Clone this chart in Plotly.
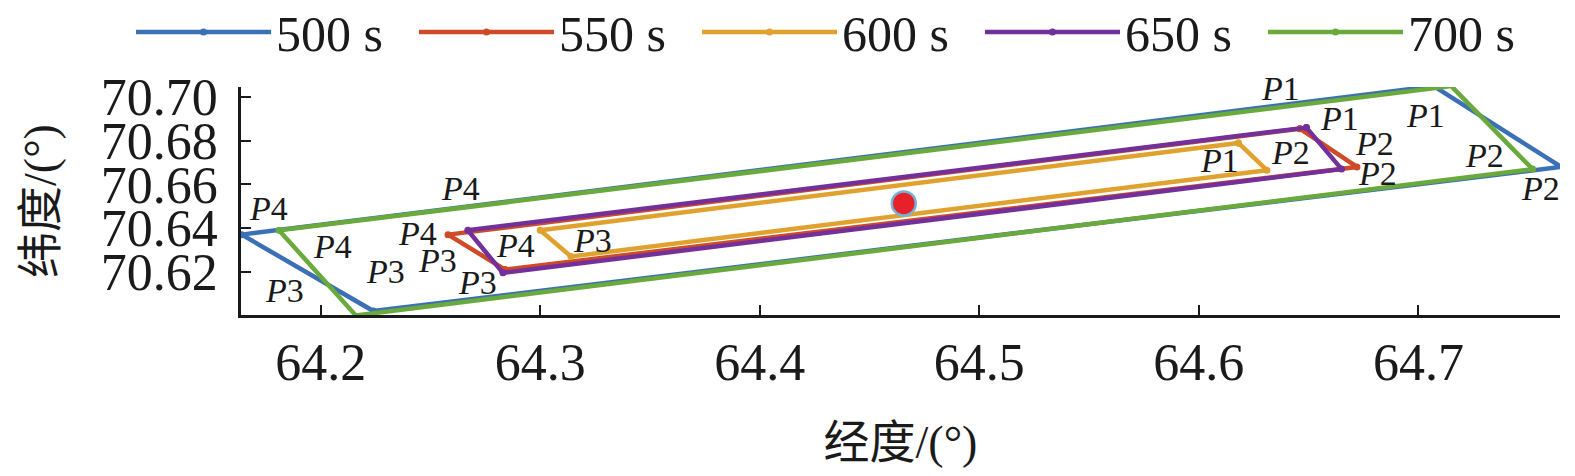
import plotly.graph_objects as go

# Sommets des zones (P1, P2, P3, P4) pour chaque instant
temps = ["500 s", "550 s", "600 s", "650 s", "700 s"]
couleurs = ["#3b70b6", "#cf4a26", "#e0a22f", "#74309a", "#6aa93c"]

lon_500 = [64.707, 64.765, 64.224, 64.164]
lat_500 = [70.705, 70.668, 70.602, 70.637]
lon_550 = [64.646, 64.672, 64.284, 64.258]
lat_550 = [70.6855, 70.668, 70.621, 70.637]
lon_600 = [64.618, 64.631, 64.314, 64.300]
lat_600 = [70.679, 70.6665, 70.627, 70.639]
lon_650 = [64.649, 64.665, 64.283, 64.267]
lat_650 = [70.686, 70.667, 70.6195, 70.639]
lon_700 = [64.715, 64.752, 64.216, 64.181]
lat_700 = [70.705, 70.667, 70.600, 70.639]

# Position de la cible (point rouge)
centre_lon = [64.4656]
centre_lat = [70.6513]

x_ticks = [64.2, 64.3, 64.4, 64.5, 64.6, 64.7]
y_ticks = [70.62, 70.64, 70.66, 70.68, 70.70]

# Étiquettes des sommets
etiquettes = ["P1", "P1", "P1", "P1", "P2", "P2", "P2", "P1", "P2", "P2",
              "P4", "P4", "P4", "P3", "P3", "P4", "P3", "P3", "P4", "P3"]
etiq_lon = [64.6374, 64.7293, 64.7034, 64.6639, 64.6799, 64.6814, 64.6419, 64.6092, 64.7300, 64.7558,
            64.2638, 64.1764, 64.2053, 64.2296, 64.1833, 64.2441, 64.2532, 64.2714, 64.2888, 64.3238]
etiq_lat = [70.7038, 70.7069, 70.6916, 70.6901, 70.6787, 70.6649, 70.6748, 70.6710, 70.6733, 70.6581,
            70.6581, 70.6489, 70.6314, 70.6199, 70.6115, 70.6375, 70.6253, 70.6153, 70.6321, 70.6344]

police = "Liberation Serif, Noto Sans CJK SC, serif"

lons = [lon_500, lon_550, lon_600, lon_650, lon_700]
lats = [lat_500, lat_550, lat_600, lat_650, lat_700]

fig = go.Figure()

# Une légende par trace pour garder de longs traits d'exemple sur une seule ligne
legendes = ["legend", "legend2", "legend3", "legend4", "legend5"]

for nom, c, lo, la, leg in zip(temps, couleurs, lons, lats, legendes):
    fig.add_trace(go.Scatter(
        x=lo + lo[:1],
        y=la + la[:1],
        mode="lines+markers",
        name=nom,
        line=dict(color=c, width=4.5),
        marker=dict(color=c, size=7),
        legend=leg,
        cliponaxis=False
    ))

fig.add_trace(go.Scatter(
    x=centre_lon, y=centre_lat,
    mode="markers",
    marker=dict(color="#e8202a", size=24, line=dict(color="#72b4d8", width=2.5)),
    showlegend=False,
    cliponaxis=False
))

for txt, xa, ya in zip(etiquettes, etiq_lon, etiq_lat):
    fig.add_annotation(
        x=xa, y=ya, text=f"<i>{txt[0]}</i>{txt[1:]}",
        showarrow=False,
        font=dict(family=police, size=34, color="#1a1a1a")
    )

fig.update_layout(
    width=1575,
    height=476,
    margin=dict(l=241, r=15, t=87, b=161, autoexpand=False),
    plot_bgcolor="white",
    paper_bgcolor="white",
    font=dict(family=police, color="#1a1a1a"),
    showlegend=True
)

for i, leg in enumerate(legendes):
    fig.update_layout({leg: dict(
        orientation="h",
        xref="container", x=(131 + 283 * i) / 1575, xanchor="left",
        yref="container", y=0.933, yanchor="middle",
        font=dict(size=50, family=police),
        itemwidth=135,
        bgcolor="rgba(0,0,0,0)"
    )})

fig.update_xaxes(
    range=[64.1637, 64.7645],
    tickvals=x_ticks,
    ticktext=[f"{v:.1f}" for v in x_ticks],
    ticks="inside", ticklen=10, tickwidth=2, tickcolor="#1a1a1a",
    showline=True, linecolor="#1a1a1a", linewidth=2.5,
    showgrid=False, zeroline=False,
    tickfont=dict(size=52),
    ticklabelstandoff=0,
    title=dict(text="经度/(°)", font=dict(size=46, family=police), standoff=36)
)

fig.update_yaxes(
    range=[70.6002, 70.7046],
    tickvals=y_ticks,
    ticktext=[f"{v:.2f}" for v in y_ticks],
    ticks="inside", ticklen=10, tickwidth=2, tickcolor="#1a1a1a",
    showline=True, linecolor="#1a1a1a", linewidth=2.5,
    showgrid=False, zeroline=False,
    tickfont=dict(size=52),
    ticklabelstandoff=10,
    title=dict(text="纬度/(°)", font=dict(size=46, family=police), standoff=30)
)

# Page sans marge autour de la figure
fig.write_html("out.html", config={"displayModeBar": False},
               post_script="document.body.style.margin='0';")
